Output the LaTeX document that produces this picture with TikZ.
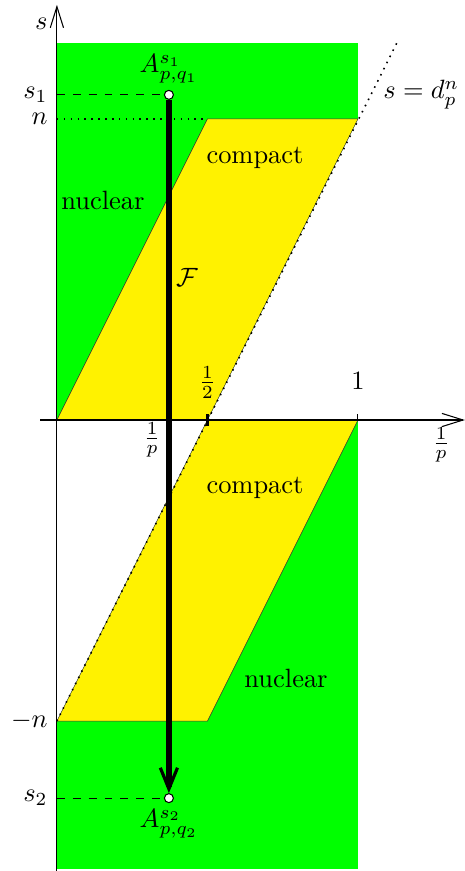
\documentclass[tikz,border=0pt]{standalone}
\usepackage{tikz}
\usetikzlibrary{arrows.meta}

\begin{document}
\begin{tikzpicture}[x=4cm,y=4cm,
        axis/.style={line width=0.4pt,-{Straight Barb[length=8pt,width=5pt]}},
        endpt/.style={circle,draw,fill=white,inner sep=0pt,minimum size=3.4pt,line width=0.4pt},
        region/.style={fill=yellow,draw=black!80,line width=0.2pt}]
        \useasboundingbox (-0.189,-1.498) rectangle (1.355,1.395);

        % nuclear and compact regions
        \fill[green] (0,-1.49) rectangle (1,1.2525);
        \fill[white] (0.5,0) -- (1,1) -- (1,0) -- cycle;
        \fill[white] (0,0) -- (0.5,0) -- (0,-1) -- cycle;
        \filldraw[region] (0,0) -- (0.5,1) -- (1,1) -- (0.5,0) -- cycle;
        \filldraw[region] (0.5,0) -- (1,0) -- (0.5,-1) -- (0,-1) -- cycle;

        % line s = d_p^n
        \coordinate (Dlow) at (0,-1);
        \coordinate (Dhigh) at (1.133,1.26);
        \draw[dotted,line width=0.6pt] (Dlow) -- (Dhigh);

        % axes
        \draw[axis] (0,-1.5) -- (0,1.379) node[anchor=east,xshift=0pt,yshift=-7pt]{$s$};
        \draw[axis] (-0.056,0) -- (1.355,0);
        \draw[line width=1pt] (0.5,-0.02) -- (0.5,0.02);
        \draw[line width=0.4pt] (1,0) -- (1,0.02);

        % axis labels
        \node (Half) at (0.5,0.125) {$\frac{1}{2}$};
        \node (One) at (1,0.128) {$1$};
        \node (Invp) at (0.316,-0.066) {$\frac{1}{p}$};
        \node (AxisLabel) at (1.276,-0.083) {$\frac{1}{p}$};
        \node (Nlevel)[anchor=east] at (0,1) {$n$};
        \node (Mlevel)[anchor=east] at (0,-1) {$-n$};

        % the family F
        \node (Top)[endpt] at (0.372,1.08) {};
        \node (Bottom)[endpt] at (0.372,-1.256) {};
        \node (S1)[anchor=east] at (0,1.08) {$s_1$};
        \node (S2)[anchor=east] at (0,-1.256) {$s_2$};
        \draw[dashed] (0,1.08) -- (Top);
        \draw[dashed] (0,-1.256) -- (Bottom);
        \draw[dotted,line width=0.6pt] (0,1) -- (0.5,1);
        \draw[line width=2pt,-{Straight Barb[length=8pt,width=6.5pt,line width=1.2pt]}] (Top) -- (Bottom);
        \node (Aone)[above=-1pt] at (Top.north) {$A_{p,q_1}^{s_1}$};
        \node (Atwo)[below=-1pt] at (Bottom.south) {$A_{p,q_2}^{s_2}$};

        % region names
        \node (NucTop) at (0.153,0.728) {nuclear};
        \node (ComTop) at (0.658,0.870) {compact};
        \node (Fam) at (0.432,0.472) {$\mathcal{F}$};
        \node (ComBot) at (0.658,-0.226) {compact};
        \node (NucBot) at (0.761,-0.857) {nuclear};
        \node (Dline) at (1.21,1.08) {$s=d_p^n$};
    \end{tikzpicture}
\end{document}
